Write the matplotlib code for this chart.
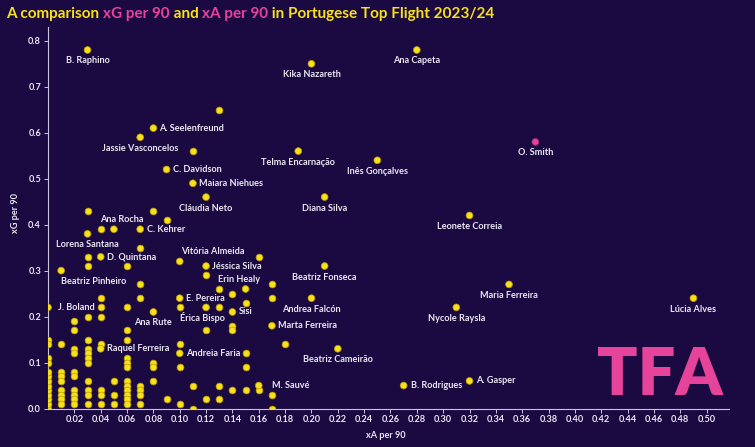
import numpy as np
import matplotlib.pyplot as plt

# labelled players: name, xA per 90, xG per 90
names = ["B. Raphino", "Kika Nazareth", "Ana Capeta", "A. Seelenfreund", "Jassie Vasconcelos",
         "C. Davidson", "Maiara Niehues", "Cláudia Neto", "Telma Encarnação", "Inês Gonçalves",
         "Diana Silva", "Leonete Correia", "O. Smith", "Ana Rocha", "C. Kehrer", "Lorena Santana",
         "D. Quintana", "Vitória Almeida", "Jéssica Silva", "Beatriz Pinheiro", "Erin Healy",
         "Beatriz Fonseca", "E. Pereira", "Andrea Falcón", "Maria Ferreira", "J. Boland",
         "Sisi", "Érica Bispo", "Ana Rute", "Nycole Raysla", "Lúcia Alves", "Marta Ferreira",
         "Raquel Ferreira", "Andreia Faria", "Beatriz Cameirão", "M. Sauvé", "B. Rodrigues",
         "A. Gasper"]
xa = [0.03, 0.20, 0.28, 0.08, 0.07,
      0.09, 0.11, 0.12, 0.19, 0.25,
      0.21, 0.32, 0.37, 0.05, 0.07, 0.03,
      0.04, 0.10, 0.12, 0.01, 0.15,
      0.21, 0.10, 0.20, 0.35, 0.00,
      0.14, 0.12, 0.08, 0.31, 0.49, 0.17,
      0.04, 0.10, 0.22, 0.16, 0.27,
      0.32]
xg = [0.78, 0.75, 0.78, 0.61, 0.59,
      0.52, 0.49, 0.46, 0.56, 0.54,
      0.46, 0.42, 0.58, 0.39, 0.39, 0.38,
      0.33, 0.32, 0.31, 0.30, 0.26,
      0.31, 0.24, 0.24, 0.27, 0.22,
      0.21, 0.22, 0.21, 0.22, 0.24, 0.18,
      0.13, 0.12, 0.13, 0.05, 0.05,
      0.06]
highlight = "O. Smith"

# the rest of the league (unlabelled)
other_xa = [0.13, 0.11, 0.09, 0.08, 0.03, 0.04, 0.07, 0.03, 0.03, 0.06, 0.16, 0.12,
            0.07, 0.17, 0.13, 0.14, 0.07, 0.17, 0.15, 0.04, 0.10, 0.13, 0.06, 0.04,
            0.02, 0.02, 0.03, 0.04, 0.06, 0.06, 0.12, 0.14, 0.14, 0.18, 0.15, 0.10,
            0.04, 0.00, 0.00, 0.01, 0.02, 0.02, 0.03, 0.03, 0.03, 0.03, 0.03, 0.00,
            0.00, 0.06, 0.06, 0.08, 0.08, 0.10, 0.15,
            0.00, 0.00, 0.00, 0.00, 0.00, 0.00, 0.00, 0.00, 0.00,
            0.01, 0.01, 0.01, 0.01, 0.01, 0.01, 0.01,
            0.02, 0.02, 0.02, 0.02, 0.02, 0.02,
            0.03, 0.03, 0.03, 0.03,
            0.04, 0.04, 0.04,
            0.05, 0.05, 0.05,
            0.06, 0.06, 0.06, 0.06, 0.06, 0.06, 0.06,
            0.07, 0.07, 0.07, 0.07,
            0.08, 0.09, 0.10, 0.11, 0.11, 0.12, 0.13, 0.13, 0.14, 0.15, 0.16,
            0.17, 0.17]
other_xg = [0.65, 0.56, 0.41, 0.43, 0.43, 0.39, 0.35, 0.33, 0.31, 0.31, 0.33, 0.29,
            0.27, 0.27, 0.26, 0.25, 0.24, 0.24, 0.23, 0.24, 0.22, 0.22, 0.22, 0.22,
            0.19, 0.17, 0.20, 0.20, 0.17, 0.15, 0.17, 0.18, 0.17, 0.14, 0.12, 0.14,
            0.14, 0.15, 0.14, 0.14, 0.13, 0.12, 0.15, 0.13, 0.12, 0.11, 0.10, 0.11,
            0.10, 0.11, 0.10, 0.10, 0.09, 0.09, 0.09,
            0.00, 0.01, 0.02, 0.03, 0.04, 0.05, 0.06, 0.07, 0.08,
            0.08, 0.07, 0.06, 0.04, 0.03, 0.02, 0.01,
            0.08, 0.07, 0.04, 0.03, 0.02, 0.01,
            0.06, 0.04, 0.03, 0.01,
            0.04, 0.03, 0.01,
            0.06, 0.03, 0.01,
            0.09, 0.06, 0.05, 0.04, 0.03, 0.02, 0.01,
            0.05, 0.04, 0.03, 0.01,
            0.06, 0.02, 0.01, 0.05, 0.00, 0.02, 0.05, 0.02, 0.04, 0.04, 0.04,
            0.03, 0.00]

x_ticks = np.round(np.arange(0.02, 0.501, 0.02), 2)
y_ticks = np.round(np.arange(0.0, 0.81, 0.1), 1)

# label placement (offset in pixels from the dot, horizontal alignment)
below = (0, -11, "center")
right = (6, 0, "left")
label_pos = {
    "A. Seelenfreund": right, "C. Davidson": right, "Maiara Niehues": right,
    "C. Kehrer": (7, 0, "left"), "D. Quintana": right, "Jéssica Silva": right,
    "E. Pereira": right, "Sisi": right, "Marta Ferreira": right,
    "Raquel Ferreira": right, "Andreia Faria": right, "B. Rodrigues": (7, 0, "left"),
    "A. Gasper": (7, 0, "left"), "J. Boland": (10, 0, "left"), "M. Sauvé": (13, 0, "left"),
    "Ana Rocha": (8, 10, "center"), "Vitória Almeida": (1, 10, "left"),
    "Erin Healy": (-7, 9, "center"), "Beatriz Pinheiro": (0, -11, "left"),
    "Érica Bispo": (-4, -10, "center"),
}

BG = "#1b0a41"
YELLOW = "#f7e01c"
PINK = "#e6449b"
TXT = "#e9e6f2"
FONT = ["Lato", "DejaVu Sans"]

plt.rcParams["font.family"] = FONT

fig = plt.figure(figsize=(7.55, 4.47), dpi=100)
fig.patch.set_facecolor(BG)
W, H = 755, 447
ax = fig.add_axes([48 / W, 1 - 408.5 / H, (729 - 48) / W, (408.5 - 27) / H])
ax.set_facecolor(BG)

ax.scatter(other_xa, other_xg, s=24, color=YELLOW, edgecolor="#b89a00", linewidth=0.5, zorder=3)
cols = [PINK if n == highlight else YELLOW for n in names]
edges = ["#a02a6a" if n == highlight else "#b89a00" for n in names]
ax.scatter(xa, xg, s=24, color=cols, edgecolor=edges, linewidth=0.5, zorder=4)

for n, x, y in zip(names, xa, xg):
    dx, dy, ha = label_pos.get(n, below)
    ax.annotate(n, (x, y), xytext=(dx, dy), textcoords="offset pixels",
                ha=ha, va="center", fontsize=6.6, fontweight="bold", color=TXT, zorder=5)

ax.set_xlim(0, 0.517)
ax.set_ylim(0, 0.83)
ax.set_xticks(x_ticks)
ax.set_xticklabels([f"{v:.2f}" for v in x_ticks])
ax.set_yticks(y_ticks)
ax.set_yticklabels([f"{v:.1f}" for v in y_ticks])
for s in ["top", "right"]:
    ax.spines[s].set_visible(False)
for s in ["left", "bottom"]:
    ax.spines[s].set_color("#c9c4da")
    ax.spines[s].set_linewidth(0.8)
ax.tick_params(colors="#c9c4da", labelcolor=TXT, labelsize=6.6, length=3, width=0.7, pad=2)
for lab in ax.get_xticklabels() + ax.get_yticklabels():
    lab.set_fontweight("bold")

fig.text(386 / W, 1 - 436 / H, "xA per 90", ha="center", va="center",
         fontsize=6.6, fontweight="bold", color=TXT)
fig.text(15 / W, 1 - 213 / H, "xG per 90", ha="center", va="center", rotation=90,
         fontsize=6.6, fontweight="bold", color=TXT)

# multicoloured title
r = fig.canvas.get_renderer()
def text_width(s, **kw):
    t = fig.text(0, 0, "|" + s + "|", **kw)
    t2 = fig.text(0, 0, "||", **kw)
    w = t.get_window_extent(r).width - t2.get_window_extent(r).width
    t.remove()
    t2.remove()
    return w

parts = [("A comparison ", YELLOW), ("xG per 90", PINK), (" and ", YELLOW),
         ("xA per 90", PINK), (" in Portugese Top Flight 2023/24", YELLOW)]
tx = 6
for s, c in parts:
    kw = dict(fontsize=11, fontweight="bold")
    fig.text(tx / W, 1 - 18 / H, s, color=c, ha="left", va="baseline", **kw)
    tx += text_width(s, **kw)

# logo
fig.text(660 / W, 1 - 395 / H, "TFA", ha="center", va="baseline", fontsize=48,
         fontweight="heavy", color=PINK)

fig.savefig("out.png", dpi=100, facecolor=BG)
